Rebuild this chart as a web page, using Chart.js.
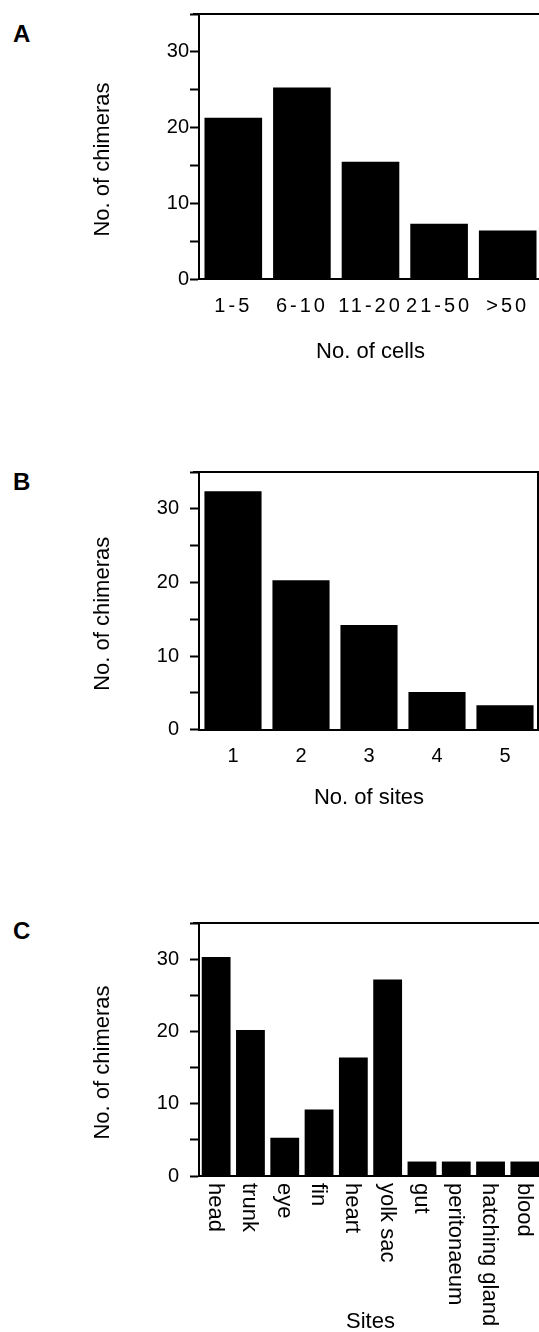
<!DOCTYPE html>
<html>
<head>
<meta charset="utf-8">
<script src="https://cdn.jsdelivr.net/npm/chart.js@4"></script>
<style>
  body { margin: 0; width: 539px; height: 1332px; overflow: hidden; background: #fff; position: relative; }
  .panel { position: absolute; left: 0; }
  .letter { position: absolute; left: 13px; font: bold 24px "Liberation Sans", Arial, sans-serif; line-height: normal; color: #000; }
</style>
</head>
<body>
<div class="letter" style="top: 20px">A</div>
<div class="letter" style="top: 468px">B</div>
<div class="letter" style="top: 917px">C</div>
<canvas id="graficoA" class="panel" style="top: 0px" width="542" height="365"></canvas>
<canvas id="graficoB" class="panel" style="top: 449px" width="539" height="362"></canvas>
<canvas id="graficoC" class="panel" style="top: 900px" width="542" height="433"></canvas>
<script>
// A: chimeras by number of cells
const cellBins = ['1-5', '6-10', '11-20', '21-50', '>50'];
const chimerasByCells = [21.3, 25.3, 15.5, 7.3, 6.4];

// B: chimeras by number of sites
const siteCounts = ['1', '2', '3', '4', '5'];
const chimerasBySiteCount = [32.4, 20.3, 14.2, 5.1, 3.3];

// C: chimeras by site
const sites = ['head', 'trunk', 'eye', 'fin', 'heart', 'yolk sac', 'gut', 'peritonaeum', 'hatching gland', 'blood'];
const chimerasBySite = [30.3, 20.2, 5.3, 9.2, 16.4, 27.2, 2.0, 2.0, 2.0, 2.0];

const yMax = 35;
const yStep = 5;
const yLabelEvery = 10;
const yTitle = 'No. of chimeras';

const fonte = '"Liberation Sans", Arial, Helvetica, sans-serif';
Chart.defaults.font.family = fonte;
Chart.defaults.color = '#000';

// top and right edge of the plot box
const moldura = {
    id: 'moldura',
    afterDraw(chart) {
        const { ctx, chartArea: a } = chart;
        ctx.save();
        ctx.strokeStyle = '#000';
        ctx.lineWidth = 2;
        ctx.beginPath();
        ctx.moveTo(a.left - 6, a.top);
        ctx.lineTo(a.right - 1, a.top);
        ctx.lineTo(a.right - 1, a.bottom);
        ctx.stroke();
        ctx.restore();
    }
};

// y title sits a bit below the middle of the axis in the original
const tituloY = {
    id: 'tituloY',
    afterDraw(chart, args, opts) {
        const { ctx, chartArea: a } = chart;
        ctx.save();
        ctx.font = '22px ' + fonte;
        ctx.fillStyle = '#000';
        ctx.textAlign = 'center';
        ctx.textBaseline = 'middle';
        ctx.translate(103, (a.top + a.bottom) / 2 + 13);
        ctx.rotate(-Math.PI / 2);
        ctx.fillText(opts.text, 0, 0);
        ctx.restore();
    }
};

// wide tracking on the x tick labels (panel A)
const espacamento = {
    id: 'espacamento',
    afterLayout(chart, args, opts) {
        const sc = chart.scales.x;
        if (!opts.spacing || sc._tracked) return;
        const draw = sc.drawLabels;
        sc.drawLabels = function (area) {
            chart.ctx.save();
            chart.ctx.letterSpacing = opts.spacing;
            draw.call(this, area);
            chart.ctx.restore();
        };
        sc._tracked = true;
    }
};

// vertical labels reading top to bottom (panel C)
const rotulosVerticais = {
    id: 'rotulosVerticais',
    afterDraw(chart, args, opts) {
        if (!opts.show) return;
        const { ctx, chartArea, scales: { x } } = chart;
        ctx.save();
        ctx.font = '22px ' + fonte;
        ctx.fillStyle = '#000';
        ctx.textAlign = 'left';
        ctx.textBaseline = 'middle';
        chart.data.labels.forEach((lbl, i) => {
            ctx.save();
            ctx.translate(x.getPixelForTick(i) - 1, chartArea.bottom + 7);
            ctx.rotate(Math.PI / 2);
            ctx.fillText(lbl, 0, 0);
            ctx.restore();
        });
        ctx.restore();
    }
};

function criarGrafico(id, labels, valores, cfg) {
    return new Chart(document.getElementById(id), {
        type: 'bar',
        data: {
            labels: labels,
            datasets: [{
                data: valores,
                backgroundColor: '#000',
                borderWidth: 0,
                barPercentage: 1,
                categoryPercentage: 0.84
            }]
        },
        options: {
            responsive: false,
            animation: false,
            events: [],
            layout: { padding: { top: 14, left: 0, right: 0, bottom: 0 } },
            plugins: {
                legend: { display: false },
                tooltip: { enabled: false },
                tituloY: { text: yTitle },
                espacamento: { spacing: cfg.spacing },
                rotulosVerticais: { show: cfg.vertical }
            },
            scales: {
                x: {
                    grid: { display: false, drawTicks: false },
                    border: { display: true, color: '#000', width: 2 },
                    ticks: {
                        display: !cfg.vertical,
                        font: { size: 20 },
                        padding: 15,
                        maxRotation: 0,
                        autoSkip: false
                    },
                    title: {
                        display: true,
                        text: cfg.xTitle,
                        font: { size: 22, lineHeight: cfg.vertical ? 1 : 1.2 },
                        padding: cfg.xTitlePadding
                    }
                },
                y: {
                    min: 0,
                    max: yMax,
                    afterFit: (s) => { s.width = 199; },
                    grid: {
                        drawOnChartArea: false,
                        drawTicks: true,
                        tickLength: 9,
                        tickWidth: 2,
                        tickColor: '#000'
                    },
                    border: { display: true, color: '#000', width: 2 },
                    ticks: {
                        stepSize: yStep,
                        font: { size: 20 },
                        padding: cfg.yPad,
                        callback: (v) => (v % yLabelEvery === 0 ? v : '')
                    },
                    title: { display: false }
                }
            }
        },
        plugins: [moldura, tituloY, espacamento, rotulosVerticais]
    });
}

criarGrafico('graficoA', cellBins, chimerasByCells, {
    xTitle: 'No. of cells', xTitlePadding: { top: 5.5, bottom: 0 }, yPad: 1, spacing: '3px', vertical: false
});
criarGrafico('graficoB', siteCounts, chimerasBySiteCount, {
    xTitle: 'No. of sites', xTitlePadding: { top: 1, bottom: 0 }, yPad: 11, spacing: null, vertical: false
});
criarGrafico('graficoC', sites, chimerasBySite, {
    xTitle: 'Sites', xTitlePadding: { top: 135, bottom: 0 }, yPad: 11, spacing: null, vertical: true
});
</script>
</body>
</html>
